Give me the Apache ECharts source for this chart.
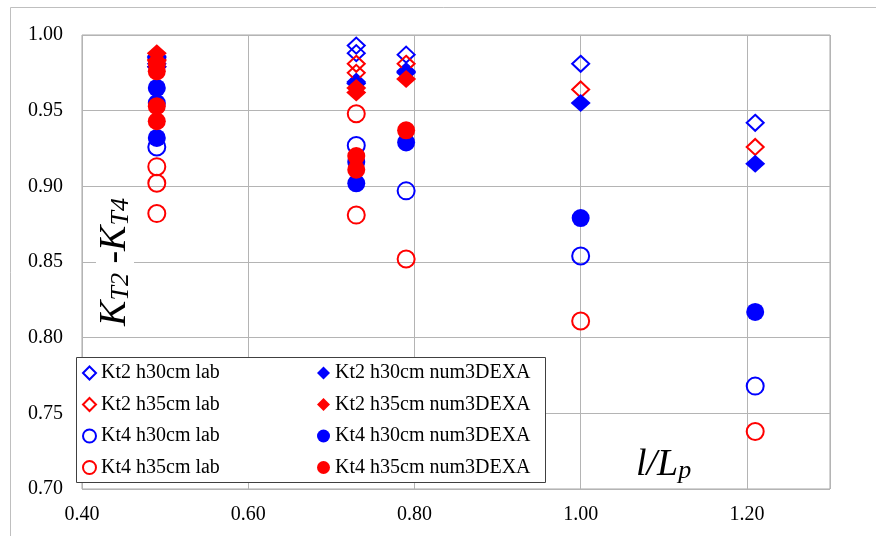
<!DOCTYPE html>
<html>
<head>
<meta charset="utf-8">
<script src="https://cdn.jsdelivr.net/npm/echarts@6/dist/echarts.min.js"></script>
<style>
  html, body { margin: 0; padding: 0; background: #fff; }
  #chart { width: 876px; height: 536px; }
</style>
</head>
<body>
<div id="chart"></div>
<script>
// Series names (legend text)
const seriesNames = [
  'Kt2 h30cm lab', 'Kt2 h35cm lab', 'Kt4 h30cm lab', 'Kt4 h35cm lab',
  'Kt2 h30cm num3DEXA', 'Kt2 h35cm num3DEXA', 'Kt4 h30cm num3DEXA', 'Kt4 h35cm num3DEXA'
];

// [l/Lp, K] pairs for each series
const kt2H30Lab = [[0.49, 0.986], [0.49, 0.981], [0.73, 0.993], [0.73, 0.988], [0.73, 0.969], [0.79, 0.987], [0.79, 0.976], [1.00, 0.981], [1.21, 0.942]];
const kt2H35Lab = [[0.49, 0.984], [0.49, 0.979], [0.73, 0.981], [0.73, 0.975], [0.79, 0.981], [1.00, 0.964], [1.21, 0.926]];
const kt4H30Lab = [[0.49, 0.926], [0.73, 0.927], [0.79, 0.897], [1.00, 0.854], [1.21, 0.768]];
const kt4H35Lab = [[0.49, 0.913], [0.49, 0.902], [0.49, 0.882], [0.73, 0.948], [0.73, 0.881], [0.79, 0.852], [1.00, 0.811], [1.21, 0.738]];
const kt2H30Num = [[0.49, 0.985], [0.49, 0.979], [0.73, 0.968], [0.79, 0.975], [1.00, 0.955], [1.21, 0.915]];
const kt2H35Num = [[0.49, 0.988], [0.49, 0.983], [0.73, 0.965], [0.73, 0.962], [0.79, 0.971]];
const kt4H30Num = [[0.49, 0.965], [0.49, 0.955], [0.49, 0.932], [0.73, 0.916], [0.73, 0.902], [0.79, 0.929], [1.00, 0.879], [1.21, 0.817]];
const kt4H35Num = [[0.49, 0.981], [0.49, 0.976], [0.49, 0.953], [0.49, 0.943], [0.73, 0.920], [0.73, 0.911], [0.79, 0.937]];

// Axis ranges / tick steps
const xRange = { min: 0.4, max: 1.3, step: 0.2 };
const yRange = { min: 0.70, max: 1.00, step: 0.05 };

const BLUE = '#0000ff';
const RED = '#ff0000';
const SERIF = '"Liberation Serif", "Times New Roman", serif';

function openMarker(name, data, symbol, color, size) {
  return {
    name, type: 'scatter', data, symbol, symbolSize: size,
    itemStyle: { color: 'rgba(0,0,0,0)', borderColor: color, borderWidth: 2, opacity: 1 },
    emphasis: { disabled: true }, silent: true
  };
}
function filledMarker(name, data, symbol, color, size) {
  return {
    name, type: 'scatter', data, symbol, symbolSize: size,
    itemStyle: { color, borderWidth: 0, opacity: 1 },
    emphasis: { disabled: true }, silent: true
  };
}

const series = [
  openMarker(seriesNames[0], kt2H30Lab, 'diamond', BLUE, [17, 16]),
  openMarker(seriesNames[1], kt2H35Lab, 'diamond', RED, [17, 16]),
  openMarker(seriesNames[2], kt4H30Lab, 'circle', BLUE, 17),
  openMarker(seriesNames[3], kt4H35Lab, 'circle', RED, 17),
  filledMarker(seriesNames[4], kt2H30Num, 'diamond', BLUE, [20, 18]),
  filledMarker(seriesNames[5], kt2H35Num, 'diamond', RED, [20, 18]),
  filledMarker(seriesNames[6], kt4H30Num, 'circle', BLUE, 18),
  filledMarker(seriesNames[7], kt4H35Num, 'circle', RED, 18)
];

const legendBase = {
  orient: 'vertical', top: 363, padding: 0, itemGap: 11.5,
  itemWidth: 13, itemHeight: 13, selectedMode: false, z: 6,
  itemStyle: { opacity: 1 },
  textStyle: { fontFamily: SERIF, fontSize: 20, color: '#000', lineHeight: 20 }
};

const chart = echarts.init(document.getElementById('chart'), null, { renderer: 'canvas' });
chart.setOption({
  animation: false,
  backgroundColor: '#fff',
  grid: { left: 82, right: 46, top: 35, bottom: 47, show: true, borderColor: '#a6a6a6', borderWidth: 1 },
  xAxis: {
    type: 'value', min: xRange.min, max: xRange.max, interval: xRange.step,
    axisLine: { show: false }, axisTick: { show: false },
    splitLine: { show: true, lineStyle: { color: '#b4b4b4', width: 1 } },
    axisLabel: {
      margin: 16, fontFamily: SERIF, fontSize: 20, color: '#000',
      formatter: v => v.toFixed(2), showMaxLabel: false
    }
  },
  yAxis: {
    type: 'value', min: yRange.min, max: yRange.max, interval: yRange.step,
    axisLine: { show: false }, axisTick: { show: false },
    splitLine: { show: true, lineStyle: { color: '#b4b4b4', width: 1 } },
    axisLabel: {
      margin: 19, fontFamily: SERIF, fontSize: 20, color: '#000',
      formatter: v => v.toFixed(2)
    },
    name: '{k|K}{s|T2}{k| -K}{s|T4}',
    nameLocation: 'middle', nameRotate: 90, nameGap: -52,
    nameTextStyle: {
      backgroundColor: '#fff', padding: [0, 2, 0, 2],
      rich: {
        k: { fontFamily: SERIF, fontStyle: 'italic', fontSize: 38, lineHeight: 38, color: '#000', verticalAlign: 'top', padding: [0, 0, 6, 0] },
        s: { fontFamily: SERIF, fontStyle: 'italic', fontSize: 26, lineHeight: 26, color: '#000', verticalAlign: 'bottom' }
      }
    }
  },
  legend: [
    Object.assign({}, legendBase, { left: 82, data: seriesNames.slice(0, 4) }),
    Object.assign({}, legendBase, { left: 317, data: seriesNames.slice(4) })
  ],
  graphic: [
    {
      type: 'rect', silent: true, z: -10,
      shape: { x: 10.5, y: 7.5, width: 1000, height: 1000 },
      style: { fill: 'none', stroke: '#bfbfbf', lineWidth: 1 }
    },
    {
      type: 'rect', silent: true, z: 5,
      shape: { x: 76.5, y: 357.5, width: 469, height: 125 },
      style: { fill: '#fff', stroke: '#404040', lineWidth: 1 }
    },
    {
      type: 'text', silent: true, z: 5, left: 636, top: 446,
      style: {
        text: '{i|l/L}{s|p}',
        rich: {
          i: { fontFamily: SERIF, fontStyle: 'italic', fontSize: 38, lineHeight: 38, fill: '#000', verticalAlign: 'top', padding: [0, 0, 7, 0] },
          s: { fontFamily: SERIF, fontStyle: 'italic', fontSize: 26, lineHeight: 26, fill: '#000', verticalAlign: 'bottom' }
        }
      }
    }
  ],
  series
});
</script>
</body>
</html>
